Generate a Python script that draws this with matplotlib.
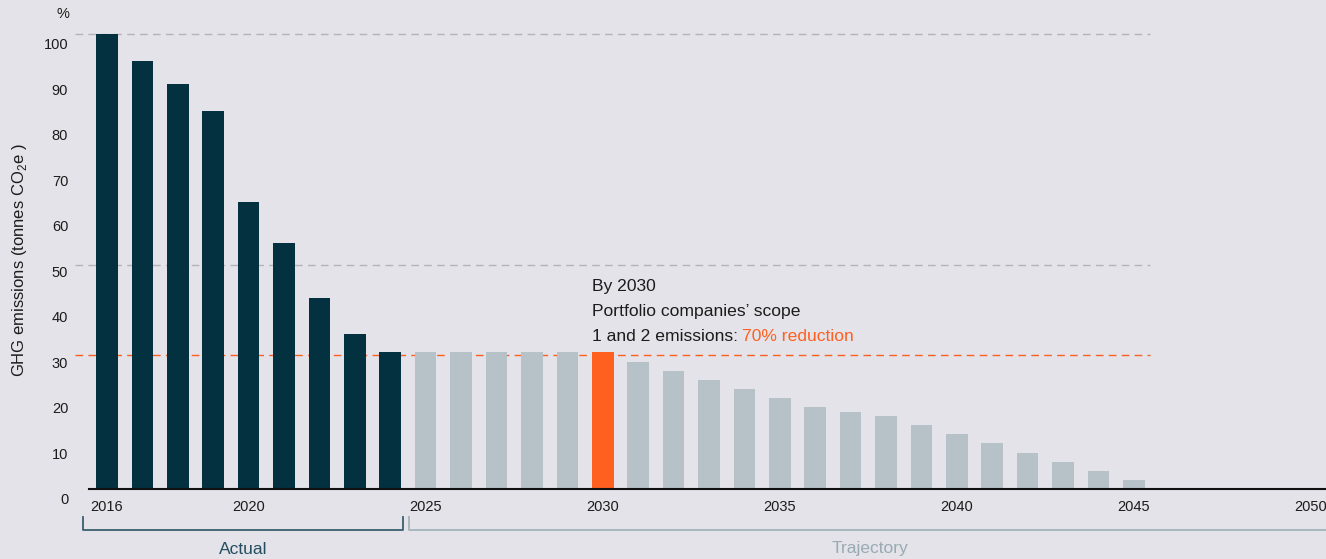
import numpy as np
import matplotlib
matplotlib.use("Agg")
import matplotlib.pyplot as plt
import matplotlib.transforms as mtransforms

plt.rcParams['font.family'] = ['Liberation Sans', 'DejaVu Sans']
plt.rcParams['mathtext.fontset'] = 'custom'
plt.rcParams['mathtext.rm'] = 'Liberation Sans'

# Emissions indexed to 2016 = 100
actual_years = list(range(2016, 2025))
actual_values = [100, 94, 89, 83, 63, 54, 42, 34, 30]
trajectory_years = list(range(2025, 2046))
trajectory_values = [30, 30, 30, 30, 30, 30, 28, 26, 24, 22, 20, 18, 17, 16, 14, 12, 10, 8, 6, 4, 2]
target_year = 2030

ref_lines = [100, 49.3]
target_line = 29.4
x_ticks = [2016, 2020, 2025, 2030, 2035, 2040, 2045, 2050]
y_ticks = list(range(0, 101, 10))

BG = '#e3e3e9'
DARK = '#03313f'
GREY = '#b7c2c8'
ORANGE = '#ff5f1f'
TEXT = '#1c1c1c'

fig = plt.figure(figsize=(13.26, 5.59), dpi=100, facecolor=BG)
ax = fig.add_axes([89 / 1326, 70 / 559, 1 - 89 / 1326, 489 / 559])
ax.set_facecolor(BG)

ax.bar(actual_years, actual_values, width=0.61, color=DARK, zorder=3)
traj_colors = [ORANGE if y == target_year else GREY for y in trajectory_years]
ax.bar(trajectory_years, trajectory_values, width=0.61, color=traj_colors, zorder=3)

ax.set_xlim(2015.49, 2050.43)
ax.set_ylim(0, 107.47)

# reference lines run a little past the left edge of the plot
for v in ref_lines:
    ax.plot([2015.1, 2045.46], [v, v], color='#b3b3b8', lw=1.0,
            dashes=(5.5, 3.8), clip_on=False, zorder=2)
ax.plot([2015.1, 2045.46], [target_line, target_line], color=ORANGE, lw=1.0,
        dashes=(5.5, 3.8), clip_on=False, zorder=2)

for s in ['top', 'right', 'left']:
    ax.spines[s].set_visible(False)
ax.spines['bottom'].set_color('#111111')
ax.spines['bottom'].set_linewidth(1.5)
ax.spines['bottom'].set_zorder(4)

ax.set_xticks(x_ticks)
ax.set_xticklabels([str(x) for x in x_ticks])
ax.tick_params(axis='x', length=0, pad=8, labelsize=10.5, labelcolor=TEXT)

ax.set_yticks(y_ticks)
ax.tick_params(axis='y', length=0, pad=15, labelsize=10.5, labelcolor=TEXT)
shift = mtransforms.ScaledTranslation(0, -10 / 100, fig.dpi_scale_trans)
for lbl in ax.get_yticklabels():
    lbl.set_transform(lbl.get_transform() + shift)

fig.text(63 / 1326, 1 - 14 / 559, '%', ha='center', va='center', fontsize=10.5, color=TEXT)
fig.text(20 / 1326, 1 - 260 / 559, 'GHG emissions (tonnes CO$_2$e )', rotation=90,
         ha='center', va='center', fontsize=12, color=TEXT)

# annotation for the 2030 target
fs = 12.6
ax.text(2029.7, 44.6, 'By 2030', fontsize=fs, color=TEXT, va='center', ha='left')
ax.text(2029.7, 39.1, 'Portfolio companies\u2019 scope', fontsize=fs, color=TEXT,
        va='center', ha='left')
t = ax.text(2029.7, 33.6, '1 and 2 emissions:', fontsize=fs, color=TEXT,
            va='center', ha='left')
ax.annotate('70% reduction', xy=(1, 0), xycoords=t, xytext=(3, 0),
            textcoords='offset points', ha='left', va='bottom',
            fontsize=fs, color=ORANGE)

# period brackets under the axis
bt = mtransforms.blended_transform_factory(ax.transData, fig.transFigure)
y_top, y_bot = 1 - 517 / 559, 1 - 530 / 559
ax.plot([2015.32, 2015.32, 2024.36, 2024.36], [y_top, y_bot, y_bot, y_top],
        transform=bt, color='#3a5f6e', lw=1.3, clip_on=False)
ax.plot([2024.53, 2024.53, 2051], [y_top, y_bot, y_bot],
        transform=bt, color='#a3b3ba', lw=1.3, clip_on=False)
ax.text(2019.84, 1 - 549 / 559, 'Actual', transform=bt, ha='center', va='center',
        fontsize=12.5, color='#254d5e')
ax.text(2037.55, 1 - 549 / 559, 'Trajectory', transform=bt, ha='center', va='center',
        fontsize=12.5, color='#9aaab2')

fig.savefig('out.png', dpi=100, facecolor=BG)
